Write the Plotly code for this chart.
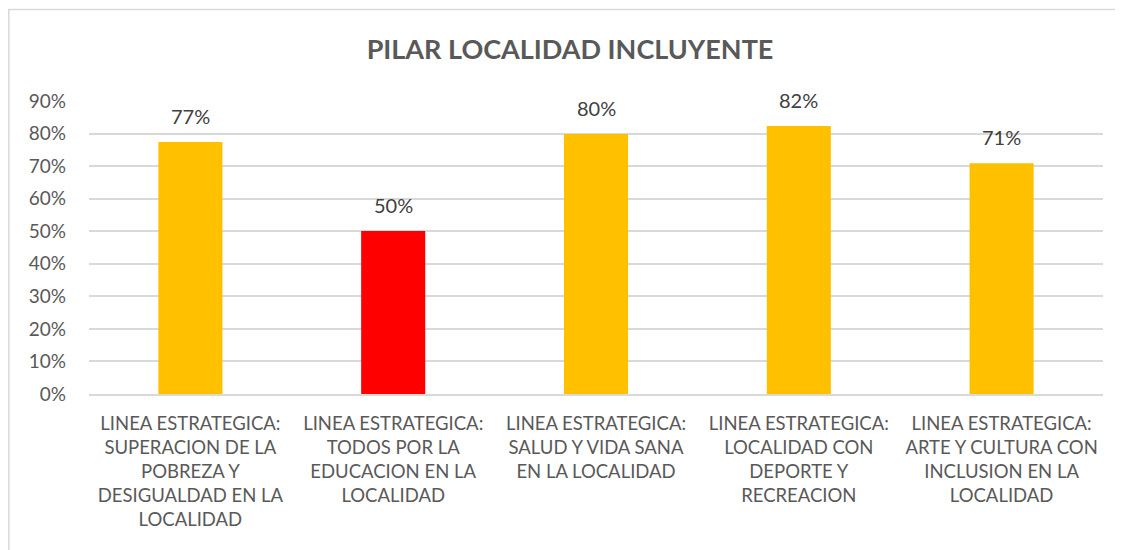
import plotly.graph_objects as go

categories = [
    "LINEA ESTRATEGICA:<br>SUPERACION DE LA<br>POBREZA Y<br>DESIGUALDAD EN LA<br>LOCALIDAD",
    "LINEA ESTRATEGICA:<br>TODOS POR LA<br>EDUCACION EN LA<br>LOCALIDAD",
    "LINEA ESTRATEGICA:<br>SALUD Y VIDA SANA<br>EN LA LOCALIDAD",
    "LINEA ESTRATEGICA:<br>LOCALIDAD CON<br>DEPORTE Y<br>RECREACION",
    "LINEA ESTRATEGICA:<br>ARTE Y CULTURA CON<br>INCLUSION EN LA<br>LOCALIDAD",
]
values = [0.774, 0.501, 0.799, 0.823, 0.709]
labels = ["77%", "50%", "80%", "82%", "71%"]
bar_colors = ["#FFC000", "#FF0000", "#FFC000", "#FFC000", "#FFC000"]
tick_vals = [0, 0.1, 0.2, 0.3, 0.4, 0.5, 0.6, 0.7, 0.8, 0.9]
tick_text = ["0%", "10%", "20%", "30%", "40%", "50%", "60%", "70%", "80%", "90%"]

FONT = "Lato, 'Open Sans', sans-serif"

fig = go.Figure()
fig.add_trace(go.Bar(
    x=categories, y=values, marker=dict(color=bar_colors, line=dict(width=0)),
    hoverinfo="skip",
))

for c, v, t in zip(categories, values, labels):
    fig.add_annotation(x=c, y=v, text=t, showarrow=False, yanchor="bottom",
                       yshift=12, font=dict(family=FONT, size=20, color="#404040"))

# page body has an 8px margin; figure origin sits at screen (8, 8)
W, H = 1123, 542
L, R, T, B = 81, 28, 93, 156
pw = W - L - R
ph = H - T - B

def px_x(p):
    return (p - L) / pw

def px_y(p):
    return (H - B - p) / ph

fig.add_shape(type="rect", xref="paper", yref="paper",
              x0=px_x(0.8), x1=px_x(1140), y0=px_y(570), y1=px_y(1.5),
              line=dict(color="#D9D9D9", width=1.5), fillcolor="rgba(0,0,0,0)", layer="below")

fig.update_layout(
    width=W, height=H,
    margin=dict(l=L, r=R, t=T, b=B, pad=0),
    paper_bgcolor="white", plot_bgcolor="white",
    bargap=0.684,
    showlegend=False,
    title=dict(text="<b>PILAR LOCALIDAD INCLUYENTE</b>", x=562 / W,
               xanchor="center", y=1 - 42 / H, yanchor="middle",
               font=dict(family=FONT, size=27, color="#595959")),
    font=dict(family=FONT),
)
fig.update_xaxes(showgrid=False, showline=True, linecolor="#D9D9D9", linewidth=1.5,
                 ticks="", ticklabelstandoff=12,
                 tickfont=dict(family=FONT, size=18.5, color="#595959"))
fig.update_yaxes(range=[0, 0.9], tickvals=tick_vals, ticktext=tick_text,
                 showgrid=True, gridcolor="#D9D9D9", gridwidth=1.5, zeroline=False,
                 showline=False, ticks="", ticklabelstandoff=22,
                 tickfont=dict(family=FONT, size=19, color="#595959"))

fig.write_html("out.html")
